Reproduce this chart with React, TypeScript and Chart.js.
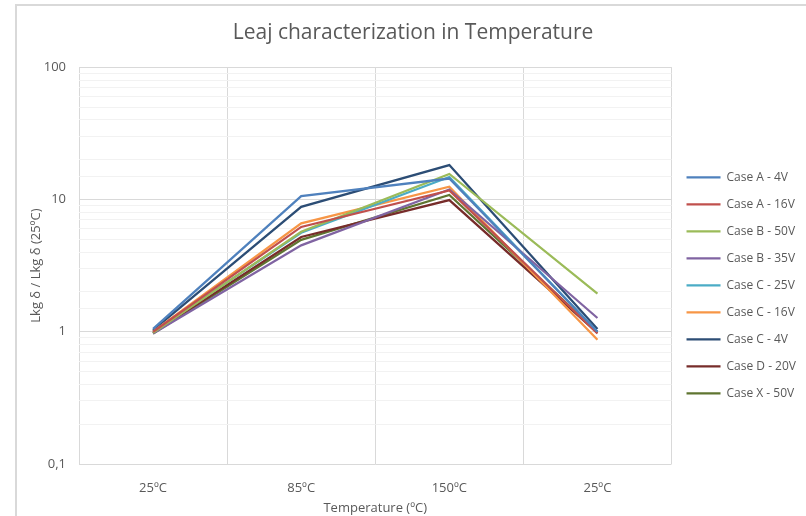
import React, { useEffect, useRef } from 'react';
import { Chart, registerables } from 'chart.js';

Chart.register(...registerables);

const categories = ['25ºC', '85ºC', '150ºC', '25ºC'];
const seriesNames = [
  'Case A - 4V',
  'Case A - 16V',
  'Case B - 50V',
  'Case B - 35V',
  'Case C - 25V',
  'Case C - 16V',
  'Case C - 4V',
  'Case D - 20V',
  'Case X - 50V',
];
const caseA4V = [1.05, 10.6, 14.4, 1.0];
const caseA16V = [1.0, 6.2, 11.7, 0.97];
const caseB50V = [0.98, 5.7, 15.6, 1.94];
const caseB35V = [0.97, 4.5, 11.9, 1.27];
const caseC25V = [1.0, 5.6, 14.8, 1.0];
const caseC16V = [1.0, 6.6, 12.5, 0.87];
const caseC4V = [1.03, 8.8, 18.2, 1.05];
const caseD20V = [0.98, 5.2, 9.9, 0.98];
const caseX50V = [0.97, 4.95, 10.8, 1.0];
const seriesValues = [caseA4V, caseA16V, caseB50V, caseB35V, caseC25V, caseC16V, caseC4V, caseD20V, caseX50V];
const seriesColors = ['#4F81BD', '#C0504D', '#9BBB59', '#8064A2', '#4BACC6', '#F79646', '#2C4D75', '#772C2A', '#5F7530'];

const yMin = 0.1;
const yMax = 100;

export default function App() {
  const ref = useRef<HTMLCanvasElement | null>(null);
  useEffect(() => {
    if (!ref.current) return;
    Chart.defaults.font.family = "'Open Sans', sans-serif";
    const textColor = '#595959';
    const chart = new Chart(ref.current, {
      type: 'line',
      data: {
        labels: categories,
        datasets: seriesNames.map((name, i) => ({
          label: name,
          data: seriesValues[i],
          borderColor: seriesColors[i],
          backgroundColor: seriesColors[i],
          borderWidth: 2.25,
          pointRadius: 0,
          tension: 0,
          fill: false,
        })),
      },
      options: {
        animation: false,
        responsive: false,
        devicePixelRatio: 1,
        layout: { padding: { left: 20, right: 0, top: 0, bottom: 0 } },
        plugins: {
          title: {
            display: true,
            text: 'Leaj characterization in Temperature',
            color: textColor,
            font: { size: 21, weight: 'normal' },
            padding: { top: 20, bottom: 22 },
          },
          legend: {
            position: 'right',
            align: 'start',
            title: { display: true, text: '', padding: { top: 142, bottom: 0 } },
            labels: {
              usePointStyle: true,
              pointStyle: 'line',
              pointStyleWidth: 34,
              boxHeight: 12,
              padding: 15,
              color: textColor,
              font: { size: 12 },
            },
          },
          tooltip: { enabled: false },
        },
        scales: {
          x: {
            offset: true,
            grid: { offset: true, color: '#d9d9d9', drawTicks: false },
            border: { display: false },
            ticks: { color: textColor, font: { size: 13 }, padding: 16 },
            title: {
              display: true,
              text: 'Temperature (ºC)',
              color: textColor,
              font: { size: 13 },
              padding: { top: 4, bottom: 0 },
            },
            afterFit: (s: any) => {
              s.height = 52;
            },
          },
          y: {
            type: 'logarithmic',
            min: yMin,
            max: yMax,
            grid: {
              drawTicks: false,
              color: (ctx: any) => {
                const v = ctx.tick ? ctx.tick.value : 1;
                const l = Math.log10(v);
                return Math.abs(l - Math.round(l)) < 1e-6 ? '#d9d9d9' : '#f2f2f2';
              },
            },
            border: { display: false },
            ticks: {
              autoSkip: false,
              color: textColor,
              font: { size: 13 },
              padding: 13,
              callback: (v: any) => {
                const l = Math.log10(Number(v));
                if (Math.abs(l - Math.round(l)) > 1e-6) return '';
                return String(Number(v)).replace('.', ',');
              },
            },
            title: {
              display: true,
              text: 'Lkg δ / Lkg δ (25ºC)',
              color: textColor,
              font: { size: 13 },
              padding: { top: 8, bottom: 0 },
            },
            afterFit: (s: any) => {
              s.width = 59;
            },
          },
        },
      },
    });
    return () => chart.destroy();
  }, []);
  return (
    <div style={{ position: 'absolute', left: 0, top: 0, width: 806, height: 516, background: '#fff', overflow: 'hidden' }}>
      <div
        style={{
          position: 'absolute',
          left: 15,
          top: 4,
          width: 820,
          height: 540,
          borderLeft: '2px solid #d9d9d9',
          borderTop: '2px solid #d9d9d9',
        }}
      />
      <canvas ref={ref} width={806} height={516} style={{ position: 'absolute', left: 0, top: 0, display: 'block' }} />
    </div>
  );
}
